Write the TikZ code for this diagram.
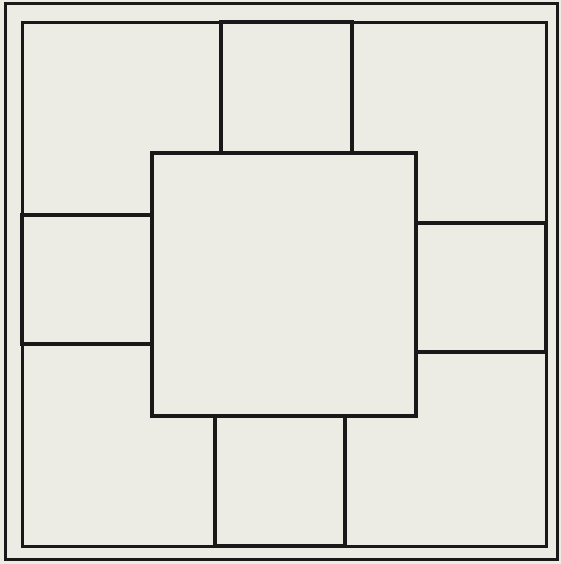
\documentclass[tikz,border=0pt]{standalone}
\begin{document}
\begin{tikzpicture}[x=1pt,y=-1pt,
  paper/.style={fill=black!9!white!97!yellow},
  frame/.style={draw=black!90, line width=3pt},
  sq/.style={draw=black!90, line width=3.4pt, line join=miter}]
\fill[paper] (0,0) rectangle (561,564);
\useasboundingbox (0,0) rectangle (561,564);
% outer frame
\draw[frame] (5,4) rectangle (557,559);
% inner frame
\draw[frame] (22,23) rectangle (546,546);
% centre square
\draw[sq] (152,153) rectangle (416,416);
% top square
\draw[sq] (221,22) rectangle (352,153);
% left square
\draw[sq] (22,215) rectangle (152,344);
% right square
\draw[sq] (416,223) rectangle (546,352);
% bottom square
\draw[sq] (215,416) rectangle (345,546);
\end{tikzpicture}
\end{document}
